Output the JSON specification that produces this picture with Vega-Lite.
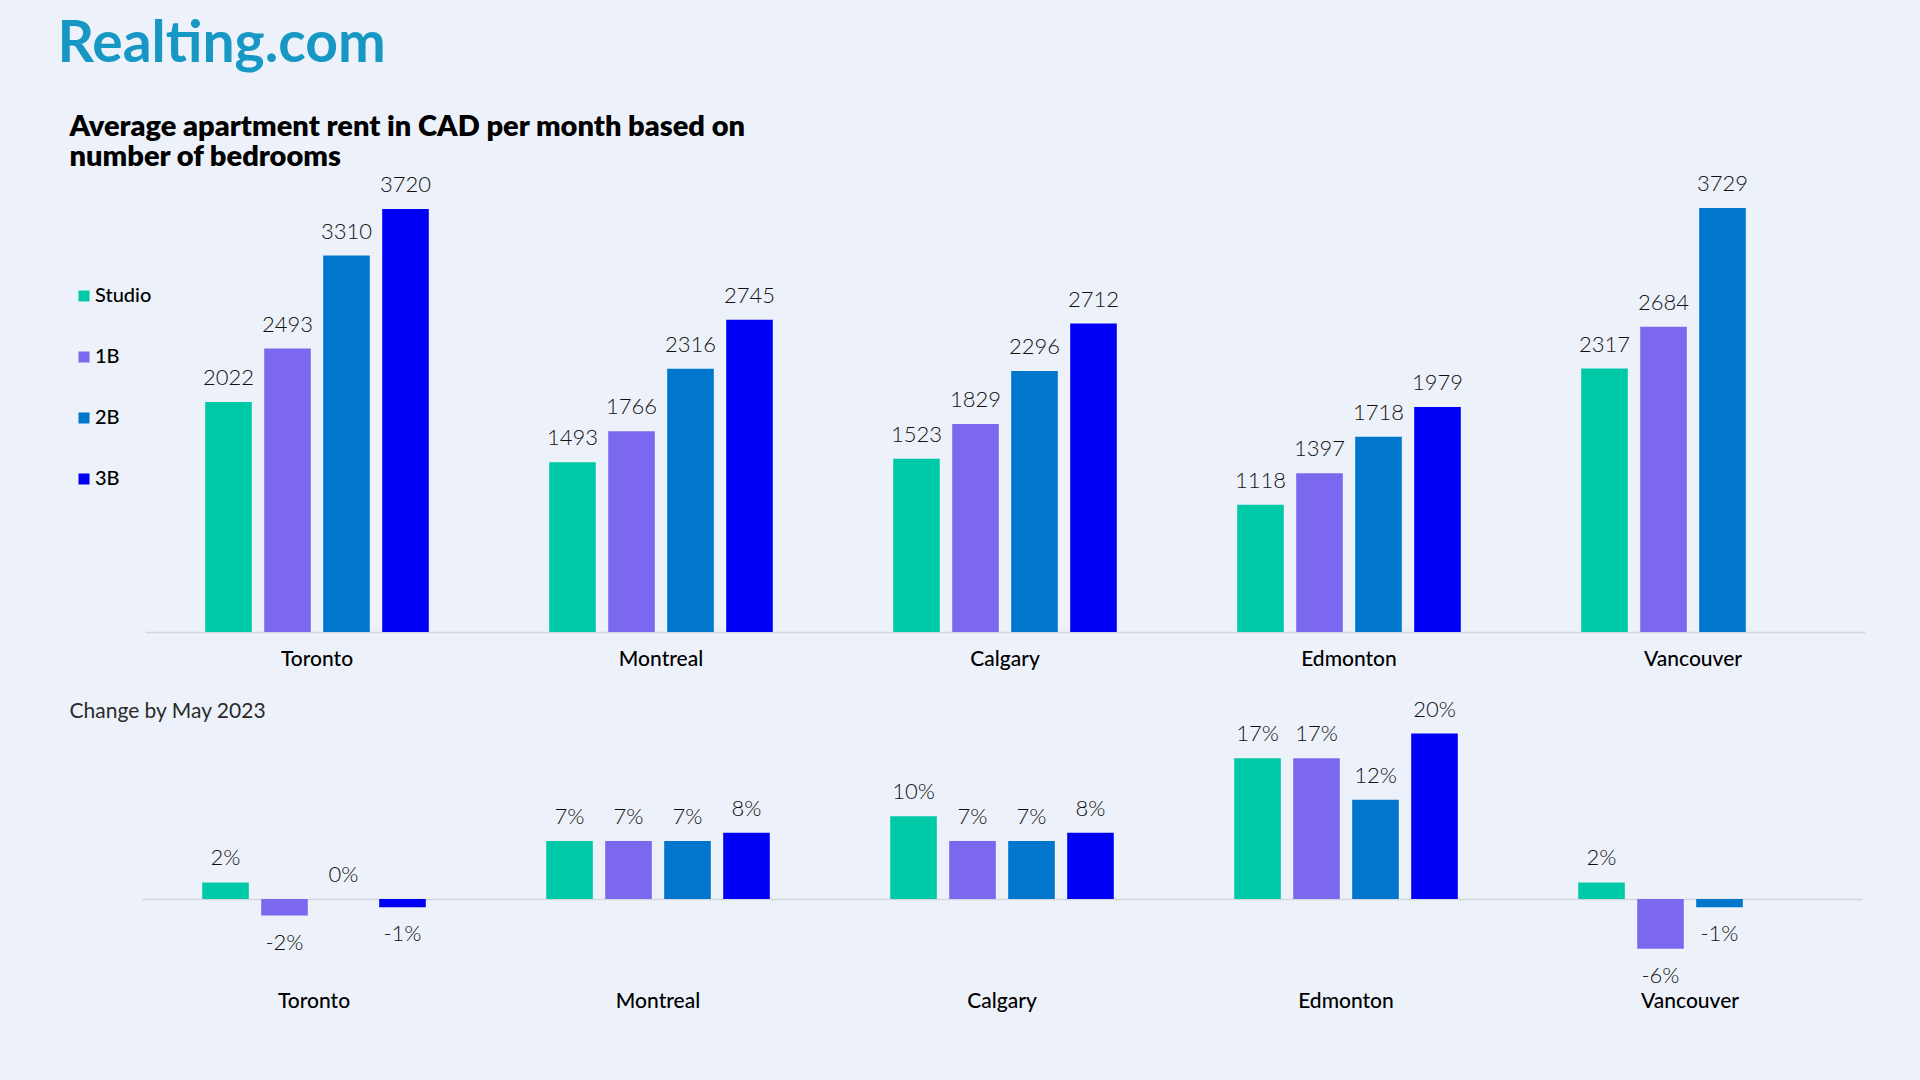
{
  "$schema": "https://vega.github.io/schema/vega-lite/v6.json",
  "width": 1920,
  "height": 1080,
  "autosize": {"type": "none"},
  "padding": 0,
  "background": "#EDF2FA",
  "config": {"view": {"stroke": null}, "font": "Lato"},
  "datasets": {
    "rent": [
      {"city": "Toronto", "bedroom": "Studio", "rent": 2022},
      {"city": "Toronto", "bedroom": "1B", "rent": 2493},
      {"city": "Toronto", "bedroom": "2B", "rent": 3310},
      {"city": "Toronto", "bedroom": "3B", "rent": 3720},
      {"city": "Montreal", "bedroom": "Studio", "rent": 1493},
      {"city": "Montreal", "bedroom": "1B", "rent": 1766},
      {"city": "Montreal", "bedroom": "2B", "rent": 2316},
      {"city": "Montreal", "bedroom": "3B", "rent": 2745},
      {"city": "Calgary", "bedroom": "Studio", "rent": 1523},
      {"city": "Calgary", "bedroom": "1B", "rent": 1829},
      {"city": "Calgary", "bedroom": "2B", "rent": 2296},
      {"city": "Calgary", "bedroom": "3B", "rent": 2712},
      {"city": "Edmonton", "bedroom": "Studio", "rent": 1118},
      {"city": "Edmonton", "bedroom": "1B", "rent": 1397},
      {"city": "Edmonton", "bedroom": "2B", "rent": 1718},
      {"city": "Edmonton", "bedroom": "3B", "rent": 1979},
      {"city": "Vancouver", "bedroom": "Studio", "rent": 2317},
      {"city": "Vancouver", "bedroom": "1B", "rent": 2684},
      {"city": "Vancouver", "bedroom": "2B", "rent": 3729}
    ],
    "change": [
      {"city": "Toronto", "bedroom": "Studio", "change": 2, "label": "2%"},
      {"city": "Toronto", "bedroom": "1B", "change": -2, "label": "-2%"},
      {"city": "Toronto", "bedroom": "2B", "change": 0, "label": "0%"},
      {"city": "Toronto", "bedroom": "3B", "change": -1, "label": "-1%"},
      {"city": "Montreal", "bedroom": "Studio", "change": 7, "label": "7%"},
      {"city": "Montreal", "bedroom": "1B", "change": 7, "label": "7%"},
      {"city": "Montreal", "bedroom": "2B", "change": 7, "label": "7%"},
      {"city": "Montreal", "bedroom": "3B", "change": 8, "label": "8%"},
      {"city": "Calgary", "bedroom": "Studio", "change": 10, "label": "10%"},
      {"city": "Calgary", "bedroom": "1B", "change": 7, "label": "7%"},
      {"city": "Calgary", "bedroom": "2B", "change": 7, "label": "7%"},
      {"city": "Calgary", "bedroom": "3B", "change": 8, "label": "8%"},
      {"city": "Edmonton", "bedroom": "Studio", "change": 17, "label": "17%"},
      {"city": "Edmonton", "bedroom": "1B", "change": 17, "label": "17%"},
      {"city": "Edmonton", "bedroom": "2B", "change": 12, "label": "12%"},
      {"city": "Edmonton", "bedroom": "3B", "change": 20, "label": "20%"},
      {"city": "Vancouver", "bedroom": "Studio", "change": 2, "label": "2%"},
      {"city": "Vancouver", "bedroom": "1B", "change": -6, "label": "-6%"},
      {"city": "Vancouver", "bedroom": "2B", "change": -1, "label": "-1%"}
    ]
  },
  "layer": [
    {
      "data": {"name": "rent"},
      "encoding": {
        "x": {
          "field": "city",
          "type": "nominal",
          "sort": ["Toronto", "Montreal", "Calgary", "Edmonton", "Vancouver"],
          "scale": {"range": [145, 1865], "paddingInner": 0.35, "paddingOuter": 0.175},
          "axis": {
            "orient": "bottom",
            "offset": -448,
            "domainColor": "#D3D8E0",
            "domainWidth": 1.5,
            "ticks": false,
            "tickSize": 0,
            "grid": false,
            "labelAngle": 0,
            "labelPadding": 16,
            "labelFontSize": 21,
            "labelFont": "Lato",
            "labelFontWeight": 500,
            "labelColor": "#000000",
            "title": ["Average apartment rent in CAD per month based on", "number of bedrooms"],
            "titleX": 69,
            "titleY": -497,
            "titleAlign": "left",
            "titleAnchor": "start",
            "titleBaseline": "alphabetic",
            "titleFontSize": 29,
            "titleFontWeight": 800,
            "titleFont": "Lato",
            "titleColor": "#000000",
            "titleLineHeight": 30
          }
        },
        "xOffset": {
          "field": "bedroom",
          "type": "nominal",
          "scale": {"domain": ["Studio", "1B", "2B", "3B"], "paddingInner": 0.21, "paddingOuter": 0}
        },
        "y": {
          "field": "rent",
          "type": "quantitative",
          "scale": {"domain": [0, 3720], "range": [632, 209], "nice": false, "zero": true},
          "axis": {
            "orient": "left",
            "domain": false,
            "ticks": false,
            "labels": false,
            "grid": false,
            "title": "Realting.com",
            "titleX": 57,
            "titleY": 61,
            "titleAngle": 0,
            "titleAlign": "left",
            "titleAnchor": "start",
            "titleBaseline": "alphabetic",
            "titleFontSize": 57,
            "titleFontWeight": 700,
            "titleFont": "Lato",
            "titleColor": "#1697C4"
          }
        }
      },
      "layer": [
        {
          "mark": {"type": "bar"},
          "encoding": {
            "color": {
              "field": "bedroom",
              "type": "nominal",
              "scale": {"domain": ["Studio", "1B", "2B", "3B"], "range": ["#00C9A7", "#7B68EE", "#0077CC", "#0000F5"]},
              "legend": {
                "orient": "none",
                "legendX": 74,
                "legendY": 286,
                "direction": "vertical",
                "title": null,
                "symbolType": "square",
                "symbolSize": 121,
                "symbolStrokeWidth": 0,
                "symbolOpacity": 1,
                "labelFontSize": 20,
                "labelFont": "Lato",
                "labelFontWeight": 500,
                "labelColor": "#000000",
                "labelOffset": 1,
                "rowPadding": 41,
                "padding": 0
              }
            }
          }
        },
        {
          "mark": {"type": "text", "dy": -17, "baseline": "alphabetic", "fontSize": 22, "fontWeight": 300, "color": "#111111", "font": "Lato"},
          "encoding": {"text": {"field": "rent", "type": "quantitative", "format": "d"}}
        }
      ]
    },
    {
      "data": {"name": "change"},
      "encoding": {
        "x": {
          "field": "city",
          "type": "nominal",
          "sort": ["Toronto", "Montreal", "Calgary", "Edmonton", "Vancouver"],
          "scale": {"range": [142, 1862], "paddingInner": 0.35, "paddingOuter": 0.175},
          "axis": {
            "orient": "bottom",
            "offset": -181,
            "domainColor": "#D3D8E0",
            "domainWidth": 1.5,
            "ticks": false,
            "tickSize": 0,
            "grid": false,
            "labelAngle": 0,
            "labelPadding": 91,
            "labelFontSize": 21,
            "labelFont": "Lato",
            "labelFontWeight": 500,
            "labelColor": "#000000",
            "title": "Change by May 2023",
            "titleX": 69,
            "titleY": -182,
            "titleAlign": "left",
            "titleAnchor": "start",
            "titleBaseline": "alphabetic",
            "titleFontSize": 21,
            "titleFontWeight": 400,
            "titleFont": "Lato",
            "titleColor": "#2A2A2A"
          }
        },
        "xOffset": {
          "field": "bedroom",
          "type": "nominal",
          "scale": {"domain": ["Studio", "1B", "2B", "3B"], "paddingInner": 0.21, "paddingOuter": 0}
        },
        "y": {
          "field": "change",
          "type": "quantitative",
          "scale": {"domain": [0, 20], "range": [899, 733.5], "nice": false, "zero": true},
          "axis": null
        }
      },
      "layer": [
        {
          "mark": {"type": "bar"},
          "encoding": {
            "color": {
              "field": "bedroom",
              "type": "nominal",
              "scale": {"domain": ["Studio", "1B", "2B", "3B"], "range": ["#00C9A7", "#7B68EE", "#0077CC", "#0000F5"]}
            }
          }
        },
        {
          "transform": [{"filter": "datum.change >= 0"}],
          "mark": {"type": "text", "dy": -17, "baseline": "alphabetic", "fontSize": 22, "fontWeight": 300, "color": "#111111", "font": "Lato"},
          "encoding": {"text": {"field": "label", "type": "nominal"}}
        },
        {
          "transform": [{"filter": "datum.change < 0"}],
          "mark": {"type": "text", "dy": 34, "baseline": "alphabetic", "fontSize": 22, "fontWeight": 300, "color": "#111111", "font": "Lato"},
          "encoding": {"text": {"field": "label", "type": "nominal"}}
        }
      ]
    }
  ],
  "resolve": {"scale": {"x": "independent", "y": "independent", "xOffset": "independent"}}
}
